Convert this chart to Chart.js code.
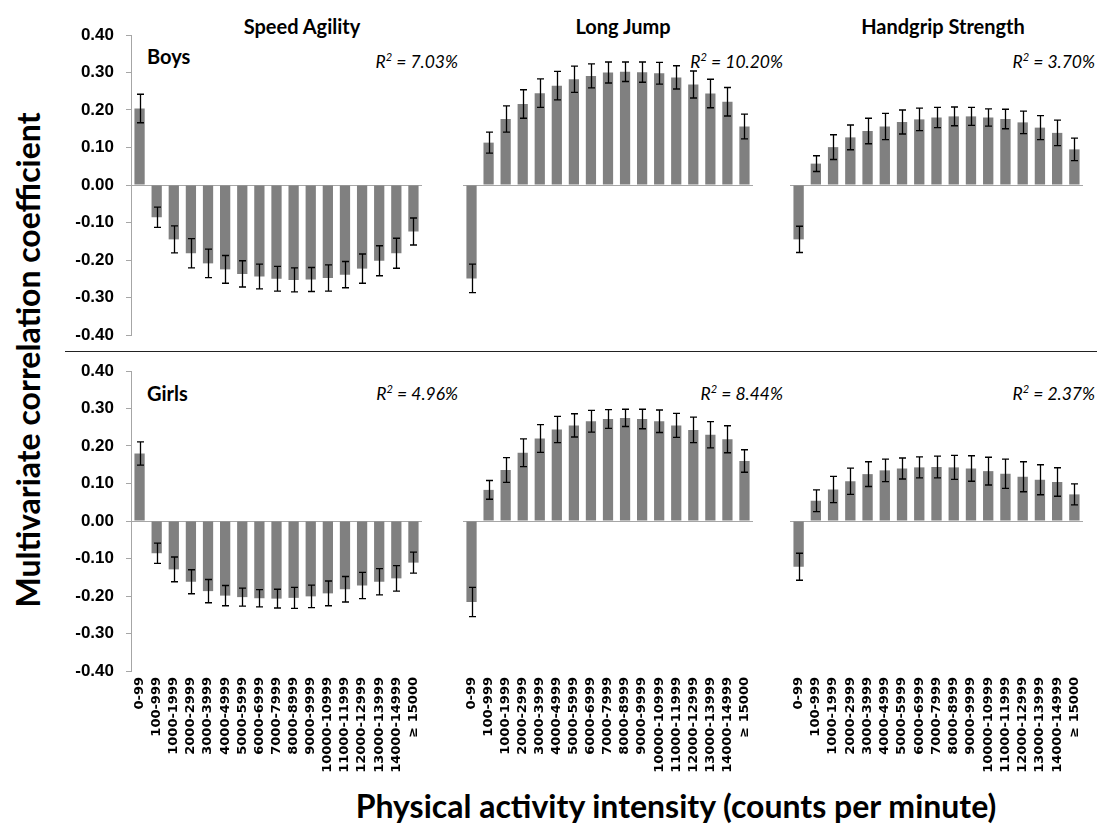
<!DOCTYPE html>
<html>
<head>
<meta charset="utf-8">
<script src="https://cdn.jsdelivr.net/npm/chart.js@4/dist/chart.umd.min.js"></script>
<style>
  html, body { margin: 0; padding: 0; background: #fff; }
  #fig { position: relative; width: 1097px; height: 836px; overflow: hidden; font-family: Lato, sans-serif; color: #000; }
  #fig canvas { position: absolute; }
  .lbl { position: absolute; white-space: nowrap; line-height: 1; }
  .head { font-weight: bold; font-size: 20px; transform: translate(-50%, -50%); }
  .group { font-weight: bold; font-size: 20px; transform: translate(0, -50%); }
  .r2 { font-style: italic; font-size: 17.5px; transform: translate(-100%, -50%); }
  .r2 sup { font-size: 11px; line-height: 0; vertical-align: 7px; }
  .axis-title { font-weight: bold; font-size: 32px; transform: translate(-50%, -50%); }
  #ytitle { transform: translate(-50%, -50%) rotate(-90deg); }
  #divider { position: absolute; left: 65px; top: 351px; width: 1032px; border-top: 1.5px solid #222; }
</style>
</head>
<body>
<div id="fig">
  <div id="divider"></div>
  <div class="lbl axis-title" id="ytitle" style="left:28px; top:360px;">Multivariate correlation coefficient</div>
  <div class="lbl axis-title" style="left:676px; top:806px;">Physical activity intensity (counts per minute)</div>
</div>
<script>
// activity bands (counts per minute)
const categories = ['0-99', '100-999', '1000-1999', '2000-2999', '3000-3999', '4000-4999',
  '5000-5999', '6000-6999', '7000-7999', '8000-8999', '9000-9999', '10000-10999',
  '11000-11999', '12000-12999', '13000-13999', '14000-14999', '≥ 15000'];

const measures = ['Speed Agility', 'Long Jump', 'Handgrip Strength'];
const groups = ['Boys', 'Girls'];
const boysR2 = ['7.03%', '10.20%', '3.70%'];
const girlsR2 = ['4.96%', '8.44%', '2.37%'];

// coefficients and half-width of the error bars
const boysSpeed = [0.204, -0.086, -0.145, -0.182, -0.209, -0.225, -0.237, -0.244, -0.250, -0.253, -0.252, -0.248, -0.239, -0.223, -0.202, -0.182, -0.124];
const boysSpeedErr = [0.038, 0.027, 0.036, 0.039, 0.038, 0.037, 0.035, 0.033, 0.033, 0.032, 0.032, 0.035, 0.035, 0.039, 0.040, 0.040, 0.036];
const boysJump = [-0.249, 0.113, 0.176, 0.216, 0.245, 0.265, 0.282, 0.291, 0.300, 0.302, 0.301, 0.298, 0.287, 0.268, 0.244, 0.222, 0.156];
const boysJumpErr = [0.038, 0.028, 0.035, 0.038, 0.038, 0.038, 0.035, 0.032, 0.028, 0.026, 0.027, 0.029, 0.031, 0.036, 0.038, 0.038, 0.033];
const boysGrip = [-0.145, 0.057, 0.101, 0.127, 0.144, 0.156, 0.168, 0.175, 0.180, 0.183, 0.183, 0.180, 0.176, 0.167, 0.153, 0.139, 0.095];
const boysGripErr = [0.035, 0.021, 0.033, 0.033, 0.034, 0.035, 0.032, 0.030, 0.027, 0.025, 0.024, 0.023, 0.026, 0.030, 0.032, 0.034, 0.030];

const girlsSpeed = [0.180, -0.086, -0.129, -0.162, -0.187, -0.199, -0.203, -0.206, -0.207, -0.205, -0.201, -0.193, -0.182, -0.172, -0.162, -0.153, -0.111];
const girlsSpeedErr = [0.031, 0.027, 0.033, 0.032, 0.031, 0.027, 0.024, 0.023, 0.025, 0.028, 0.030, 0.033, 0.034, 0.035, 0.035, 0.034, 0.028];
const girlsJump = [-0.216, 0.083, 0.136, 0.182, 0.220, 0.244, 0.255, 0.266, 0.272, 0.275, 0.272, 0.266, 0.255, 0.243, 0.230, 0.218, 0.160];
const girlsJumpErr = [0.039, 0.025, 0.033, 0.037, 0.037, 0.035, 0.031, 0.029, 0.025, 0.023, 0.026, 0.030, 0.032, 0.034, 0.035, 0.036, 0.030];
const girlsGrip = [-0.122, 0.054, 0.084, 0.106, 0.125, 0.135, 0.140, 0.143, 0.144, 0.143, 0.140, 0.133, 0.126, 0.118, 0.110, 0.104, 0.071];
const girlsGripErr = [0.036, 0.029, 0.035, 0.035, 0.033, 0.030, 0.028, 0.028, 0.029, 0.032, 0.034, 0.037, 0.039, 0.040, 0.040, 0.038, 0.028];

const panels = [
  [[boysSpeed, boysSpeedErr], [boysJump, boysJumpErr], [boysGrip, boysGripErr]],
  [[girlsSpeed, girlsSpeedErr], [girlsJump, girlsJumpErr], [girlsGrip, girlsGripErr]]
];

// plot area geometry
const colLeft = [131, 463, 790];
const colWidth = [291, 290, 293];
const rowTop = [35, 371];
const plotHeight = 300;
const PAD = 10;
const YW = 91;   // y axis box (left column only)
const XH = 125;  // category labels (bottom row only)

const errorBars = {
  id: 'errorBars',
  afterDatasetsDraw(chart, args, opts) {
    const { ctx, scales: { x, y } } = chart;
    const vals = chart.data.datasets[0].data;
    ctx.save();
    ctx.strokeStyle = '#000';
    ctx.lineWidth = 1.3;
    vals.forEach((v, i) => {
      const e = opts.errors[i];
      const px = Math.round(x.getPixelForValue(i)) + 0.5;
      const hi = y.getPixelForValue(v + e);
      const lo = y.getPixelForValue(v - e);
      ctx.beginPath();
      ctx.moveTo(px, hi); ctx.lineTo(px, lo);
      ctx.moveTo(px - 3.5, hi); ctx.lineTo(px + 3.5, hi);
      ctx.moveTo(px - 3.5, lo); ctx.lineTo(px + 3.5, lo);
      ctx.stroke();
    });
    ctx.restore();
  }
};

const fig = document.getElementById('fig');

function addLabel(cls, html, left, top) {
  const d = document.createElement('div');
  d.className = 'lbl ' + cls;
  d.innerHTML = html;
  d.style.left = left + 'px';
  d.style.top = top + 'px';
  fig.appendChild(d);
}

function makePanel(row, col) {
  const [values, errors] = panels[row][col];
  const yw = col === 0 ? YW : 0;
  const xh = row === 1 ? XH : 0;
  const cv = document.createElement('canvas');
  const w = colWidth[col] + 2 * PAD + yw;
  const h = plotHeight + 2 * PAD + xh;
  cv.width = w; cv.height = h;
  cv.style.left = (colLeft[col] - PAD - yw) + 'px';
  cv.style.top = (rowTop[row] - PAD) + 'px';
  cv.style.width = w + 'px'; cv.style.height = h + 'px';
  fig.appendChild(cv);

  new Chart(cv, {
    type: 'bar',
    data: {
      labels: categories,
      datasets: [{
        data: values,
        backgroundColor: '#808080',
        barPercentage: 0.6,
        categoryPercentage: 1
      }]
    },
    options: {
      responsive: false,
      maintainAspectRatio: false,
      animation: false,
      layout: { padding: PAD },
      plugins: {
        legend: { display: false },
        tooltip: { enabled: false },
        errorBars: { errors }
      },
      scales: {
        x: {
          display: row === 1,
          grid: { display: false, drawTicks: false },
          border: { display: false },
          ticks: {
            autoSkip: false, minRotation: 90, maxRotation: 90, padding: 6, color: '#000',
            font: { family: 'DejaVu Sans', weight: 'bold', size: 13 }
          },
          afterFit: s => {
            if (row === 1) s.height = XH;
            s.paddingLeft = 0; s.paddingRight = 0;
          }
        },
        y: {
          min: -0.4, max: 0.4,
          ticks: {
            stepSize: 0.1, display: col === 0, padding: 12, color: '#000',
            font: { family: 'Liberation Sans', weight: 'bold', size: 17 },
            callback: v => v.toFixed(2)
          },
          grid: {
            color: c => (c.tick && c.tick.value === 0) ? '#a6a6a6' : 'rgba(0,0,0,0)',
            tickColor: '#a6a6a6',
            drawTicks: col === 0,
            tickLength: 5
          },
          border: { display: col === 0, color: '#a6a6a6' },
          afterFit: s => {
            s.width = yw;
            // keep the plot box fixed; end labels may overhang into the padding
            s.paddingTop = 0; s.paddingBottom = 0;
          }
        }
      }
    },
    plugins: [errorBars]
  });
}

const headCenter = [302, 623, 943];
const r2Right = [458, 783, 1095];
const r2Top = [62, 394];
const groupTop = [56, 393];

measures.forEach((m, c) => addLabel('head', m, headCenter[c], 26));
groups.forEach((g, r) => {
  addLabel('group', g, 147, groupTop[r]);
  const r2 = r === 0 ? boysR2 : girlsR2;
  r2.forEach((t, c) => addLabel('r2', 'R<sup>2</sup> = ' + t, r2Right[c], r2Top[r]));
  for (let c = 0; c < 3; c++) makePanel(r, c);
});
</script>
</body>
</html>
